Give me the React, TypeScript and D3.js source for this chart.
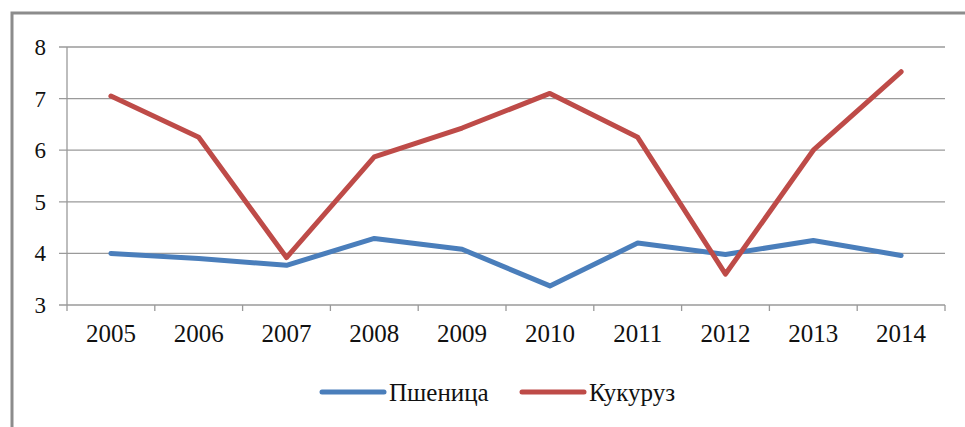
import React, { useEffect, useRef } from 'react';
import * as d3 from 'd3';

const years = ['2005', '2006', '2007', '2008', '2009', '2010', '2011', '2012', '2013', '2014'];
const wheat = [4.0, 3.9, 3.77, 4.29, 4.08, 3.37, 4.2, 3.98, 4.25, 3.96];
const corn = [7.05, 6.25, 3.92, 5.87, 6.43, 7.1, 6.25, 3.6, 6.0, 7.52];
const yTicks = [3, 4, 5, 6, 7, 8];
const seriesNames = ['Пшеница', 'Кукуруз'];
const seriesColors = ['#4a7ebb', '#be4b48'];

const W = 965;
const H = 427;
const FONT = "'Liberation Serif', 'Times New Roman', serif";

function App() {
  const svgRef = useRef<SVGSVGElement>(null);

  useEffect(() => {
    const svg = d3.select(svgRef.current);
    svg.selectAll('*').remove();

    // frame around the chart
    svg.append('rect')
      .attr('x', 12).attr('y', 13)
      .attr('width', 970).attr('height', 430)
      .attr('fill', 'white')
      .attr('stroke', '#8c8c8c')
      .attr('stroke-width', 3);

    const left = 67, right = 945, top = 47, bottom = 305;

    const x = d3.scaleBand().domain(years).range([left, right]);
    const y = d3.scaleLinear().domain([3, 8]).range([bottom, top]);

    // gridlines
    svg.append('g')
      .selectAll('line')
      .data(yTicks)
      .join('line')
      .attr('x1', left - 8).attr('x2', right)
      .attr('y1', d => y(d)).attr('y2', d => y(d))
      .attr('stroke', '#9a9a9a')
      .attr('stroke-width', 1.3);

    // y axis line
    svg.append('line')
      .attr('x1', left).attr('x2', left)
      .attr('y1', top).attr('y2', bottom)
      .attr('stroke', '#9a9a9a').attr('stroke-width', 1.3);

    // y labels
    svg.append('g')
      .selectAll('text')
      .data(yTicks)
      .join('text')
      .attr('x', 46)
      .attr('y', d => y(d))
      .attr('dy', '0.35em')
      .attr('text-anchor', 'end')
      .style('font-family', FONT)
      .style('font-size', '23px')
      .attr('fill', '#111')
      .text(d => d);

    // x ticks
    const xTickPos = years.map(yr => x(yr)!).concat([right]);
    svg.append('g')
      .selectAll('line')
      .data(xTickPos)
      .join('line')
      .attr('x1', d => d).attr('x2', d => d)
      .attr('y1', bottom).attr('y2', bottom + 6)
      .attr('stroke', '#9a9a9a').attr('stroke-width', 1.3);

    // x labels
    svg.append('g')
      .selectAll('text')
      .data(years)
      .join('text')
      .attr('x', d => x(d)! + x.bandwidth() / 2)
      .attr('y', 342)
      .attr('text-anchor', 'middle')
      .style('font-family', FONT)
      .style('font-size', '25px')
      .attr('fill', '#111')
      .text(d => d);

    // lines
    const line = d3.line<number>()
      .x((d, i) => x(years[i])! + x.bandwidth() / 2)
      .y(d => y(d));

    [wheat, corn].forEach((vals, i) => {
      svg.append('path')
        .datum(vals)
        .attr('d', line)
        .attr('fill', 'none')
        .attr('stroke', seriesColors[i])
        .attr('stroke-width', 5)
        .attr('stroke-linejoin', 'round')
        .attr('stroke-linecap', 'round');
    });

    // legend
    const legendX = [322, 522];
    seriesNames.forEach((name, i) => {
      const g = svg.append('g').attr('transform', `translate(${legendX[i]},392)`);
      g.append('line')
        .attr('x1', 0).attr('x2', 62)
        .attr('y1', 0).attr('y2', 0)
        .attr('stroke', seriesColors[i])
        .attr('stroke-width', 5)
        .attr('stroke-linecap', 'round');
      g.append('text')
        .attr('x', 67)
        .attr('y', 0)
        .attr('dy', '0.35em')
        .style('font-family', FONT)
        .style('font-size', '25px')
        .attr('fill', '#111')
        .text(name);
    });
  }, []);

  return (
    <svg ref={svgRef} width={W} height={H}
      style={{ position: 'absolute', left: 0, top: 0, background: 'white' }} />
  );
}

export default App;
